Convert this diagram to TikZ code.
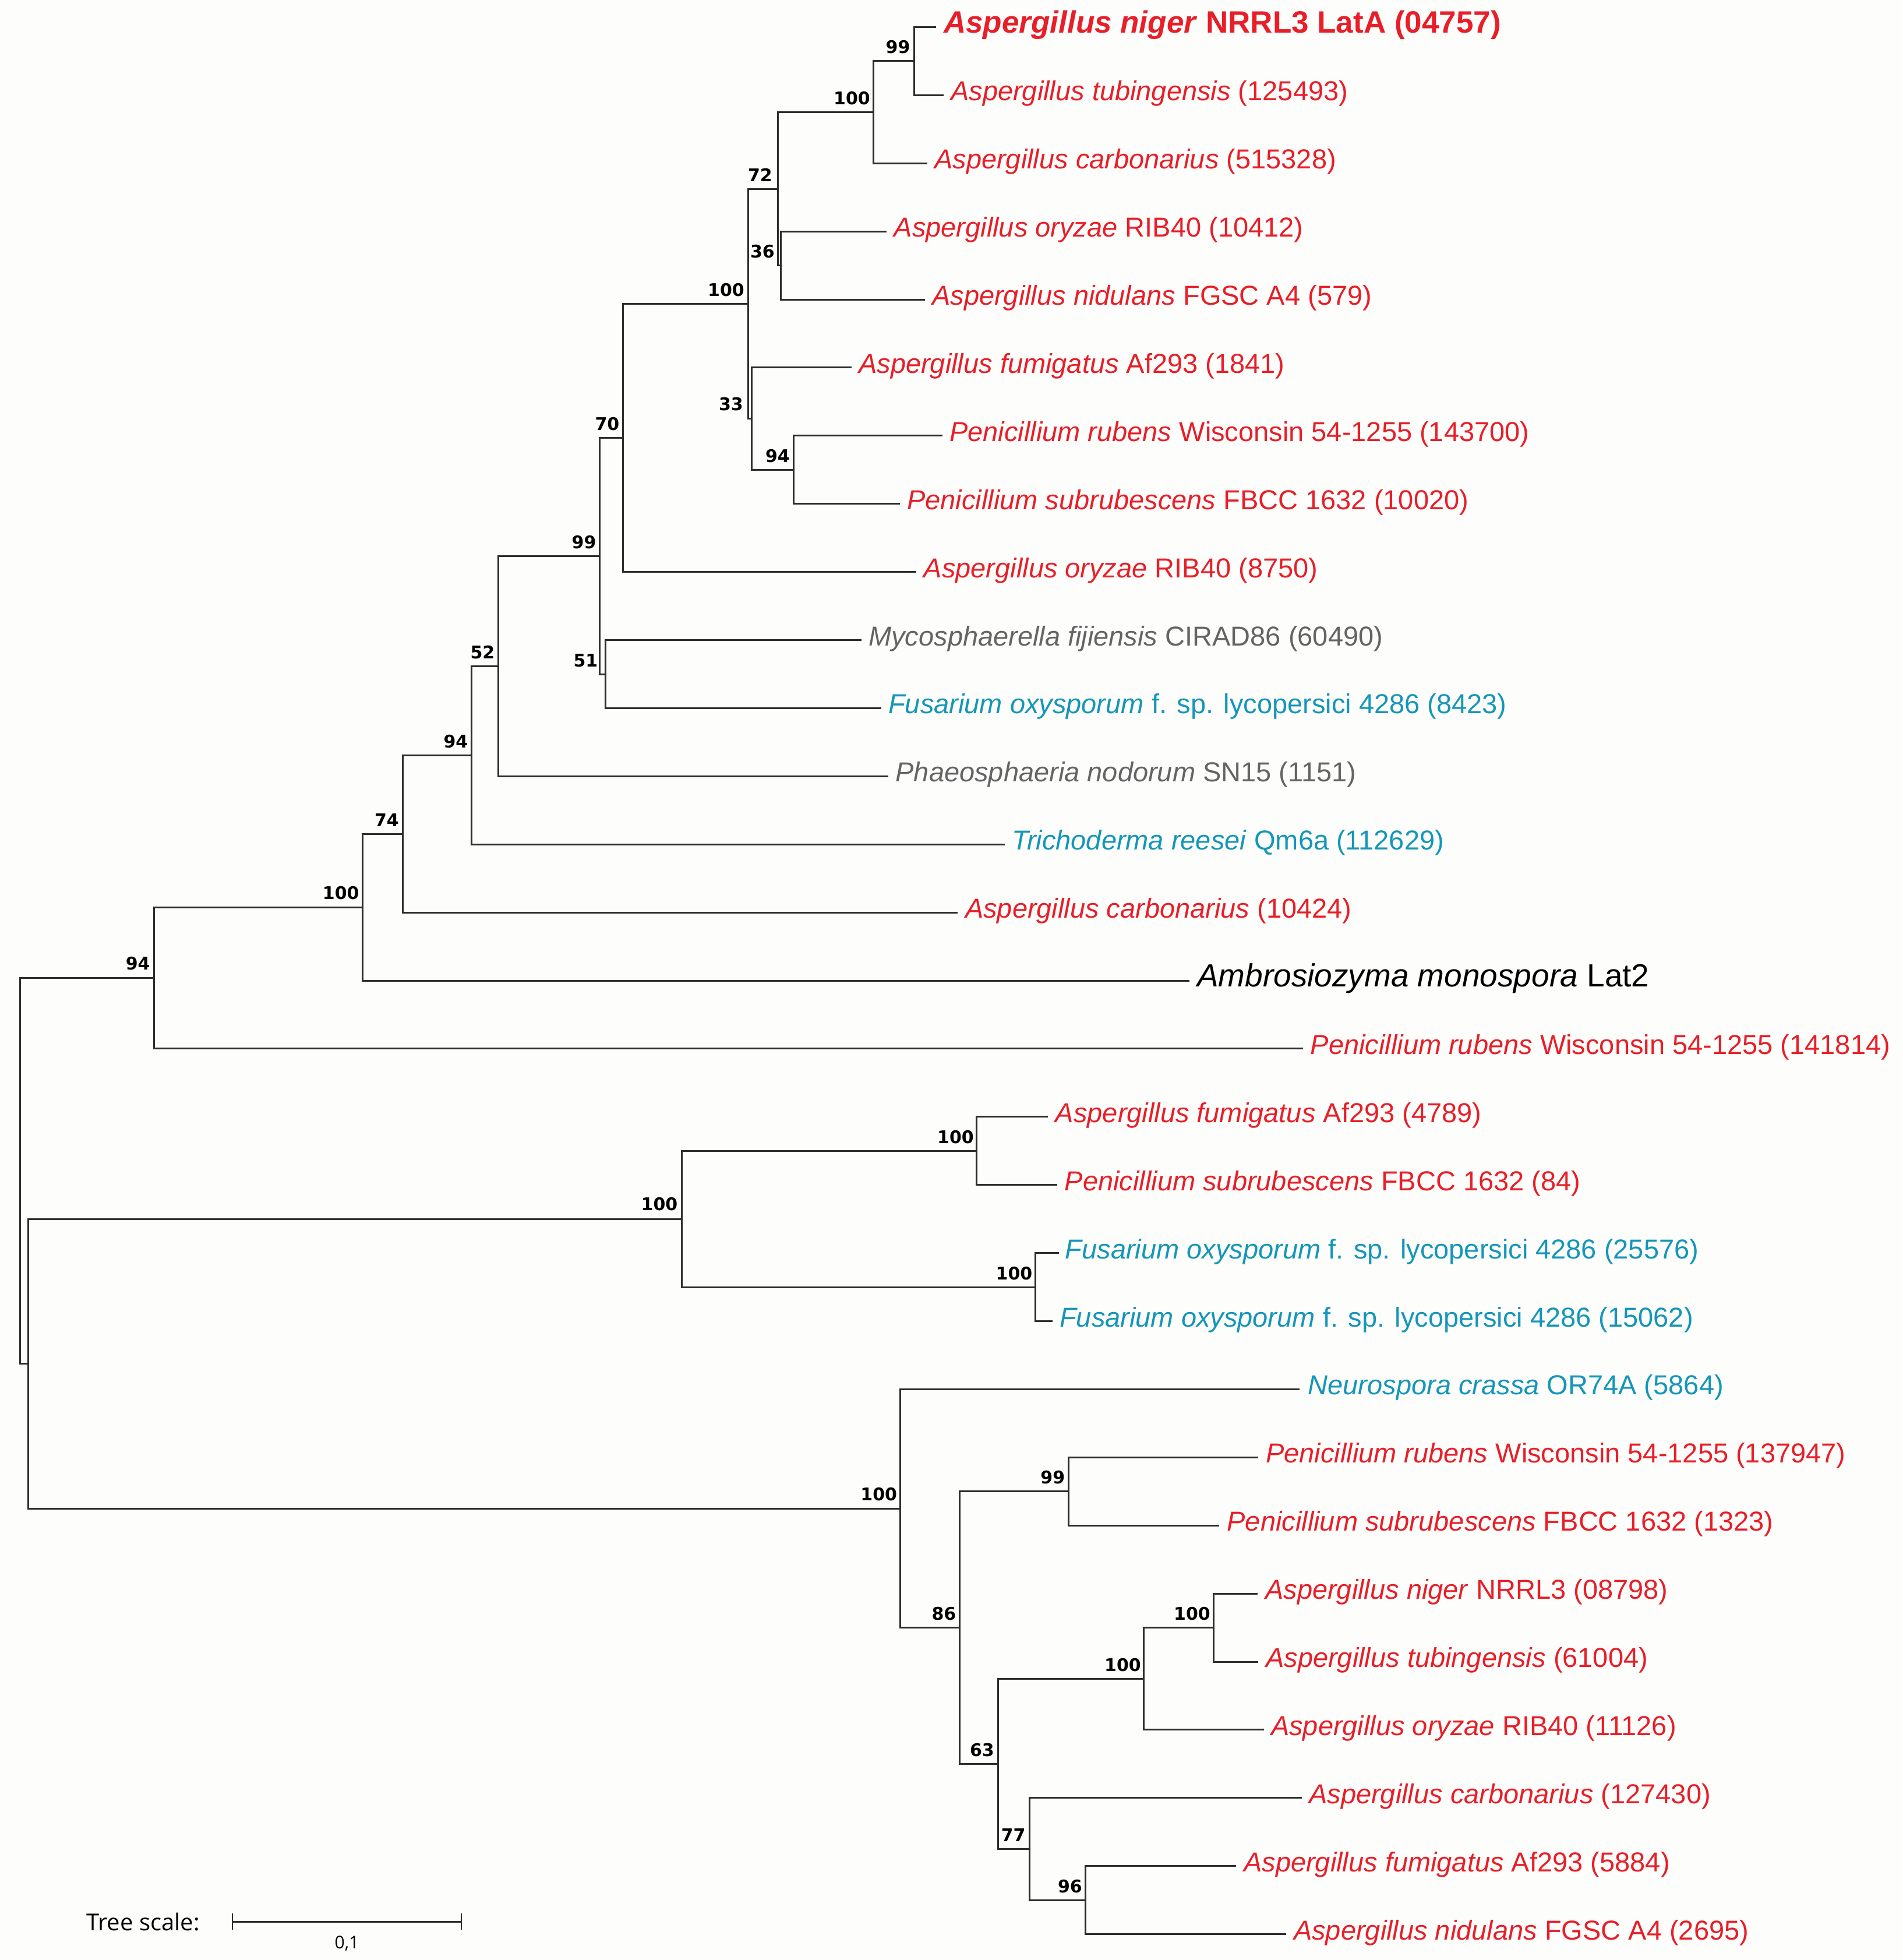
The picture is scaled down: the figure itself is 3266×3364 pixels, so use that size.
\documentclass[tikz,border=0pt]{standalone}
\usepackage{fontspec}
\usetikzlibrary{calc}
\setmainfont{Liberation Sans}
\newfontfamily\bsfam{DejaVu Sans}
\newfontfamily\scfam{Open Sans}
\definecolor{lred}{RGB}{232,30,40}
\definecolor{lteal}{RGB}{20,150,185}
\definecolor{lgray}{RGB}{100,100,102}
\definecolor{treec}{RGB}{45,45,45}
\definecolor{bgc}{RGB}{253,253,251}
\newcommand\myLab{\fontsize{47}{56}\selectfont}
\newcommand\myBig{\fontsize{53}{62}\selectfont\bfseries}
\newcommand\myAmb{\fontsize{55}{64}\selectfont}
\newcommand\myBs{\bsfam\bfseries\fontsize{30}{36}\selectfont}
\tikzset{
  br/.style={draw=treec, line width=3pt, line cap=rect},
  lab/.style={anchor=base west, inner sep=0pt, font=\myLab},
  bs/.style={anchor=base east, inner sep=0pt, font=\myBs},
}
\begin{document}
\begin{tikzpicture}[x=1pt,y=-1pt]
\fill[bgc] (0,0) rectangle (3266,3364);
\useasboundingbox (0,0) rectangle (3266,3364);

% internal nodes
\coordinate (root) at (34.8,2009.5);
\coordinate (nA) at (264.7,1678.5);
\coordinate (nB) at (48.7,2340.6);
\coordinate (n100c) at (622.8,1557.1);
\coordinate (n74) at (691,1431.2);
\coordinate (n94b) at (809.5,1296.2);
\coordinate (n52) at (855.5,1143.2);
\coordinate (n99b) at (1029.6,954.2);
\coordinate (n51) at (1039.5,1157);
\coordinate (n70) at (1069.5,751.4);
\coordinate (n100b) at (1284,521.3);
\coordinate (n33) at (1290,718.6);
\coordinate (n94a) at (1362,806.2);
\coordinate (n72) at (1335,324);
\coordinate (n36) at (1340,455.5);
\coordinate (n100a) at (1499,192.5);
\coordinate (n99a) at (1569.6,104.9);
\coordinate (n100d) at (1170.5,2092.15);
\coordinate (n100e) at (1676,1975.25);
\coordinate (n100f) at (1777.5,2209.05);
\coordinate (n100g) at (1545.2,2589);
\coordinate (n86) at (1647.5,2793.5);
\coordinate (n99c) at (1834.4,2559.75);
\coordinate (n63) at (1713,3027.3);
\coordinate (n100h) at (1963,2881.2);
\coordinate (n100i) at (2083,2793.55);
\coordinate (n77) at (1767.7,3173.5);
\coordinate (n96) at (1863,3261.15);

% leaf tips
\coordinate (t1) at (1605,46.4);
\coordinate (t2) at (1618,163.3);
\coordinate (t3) at (1590,280.2);
\coordinate (t4) at (1520.5,397.1);
\coordinate (t5) at (1586,514.0);
\coordinate (t6) at (1460,630.9);
\coordinate (t7) at (1616,747.8);
\coordinate (t8) at (1543,864.7);
\coordinate (t9) at (1571.6,981.6);
\coordinate (t10) at (1477,1098.5);
\coordinate (t11) at (1511,1215.4);
\coordinate (t12) at (1523.4,1332.3);
\coordinate (t13) at (1723.6,1449.2);
\coordinate (t14) at (1642.8,1566.1);
\coordinate (t15) at (2040.8,1683.0);
\coordinate (t16) at (2235.5,1799.9);
\coordinate (t17) at (1797.7,1916.8);
\coordinate (t18) at (1813.6,2033.7);
\coordinate (t19) at (1816.5,2150.6);
\coordinate (t20) at (1805,2267.5);
\coordinate (t21) at (2229.5,2384.4);
\coordinate (t22) at (2158,2501.3);
\coordinate (t23) at (2091.4,2618.2);
\coordinate (t24) at (2157,2735.1);
\coordinate (t25) at (2158,2852.0);
\coordinate (t26) at (2168.8,2968.9);
\coordinate (t27) at (2233,3085.8);
\coordinate (t28) at (2120,3202.7);
\coordinate (t29) at (2206.9,3319.6);

% branches
\draw[br] (root) |- (nA);  \draw[br] (root) |- (nB);
\draw[br] (nA) |- (n100c); \draw[br] (nA) |- (t16);
\draw[br] (n100c) |- (n74); \draw[br] (n100c) |- (t15);
\draw[br] (n74) |- (n94b); \draw[br] (n74) |- (t14);
\draw[br] (n94b) |- (n52); \draw[br] (n94b) |- (t13);
\draw[br] (n52) |- (n99b); \draw[br] (n52) |- (t12);
\draw[br] (n99b) |- (n70); \draw[br] (n99b) |- (n51);
\draw[br] (n70) |- (n100b); \draw[br] (n70) |- (t9);
\draw[br] (n100b) |- (n72); \draw[br] (n100b) |- (n33);
\draw[br] (n72) |- (n100a); \draw[br] (n72) |- (n36);
\draw[br] (n100a) |- (n99a); \draw[br] (n100a) |- (t3);
\draw[br] (n99a) |- (t1); \draw[br] (n99a) |- (t2);
\draw[br] (n36) |- (t4); \draw[br] (n36) |- (t5);
\draw[br] (n33) |- (t6); \draw[br] (n33) |- (n94a);
\draw[br] (n94a) |- (t7); \draw[br] (n94a) |- (t8);
\draw[br] (n51) |- (t10); \draw[br] (n51) |- (t11);
\draw[br] (nB) |- (n100d); \draw[br] (nB) |- (n100g);
\draw[br] (n100d) |- (n100e); \draw[br] (n100d) |- (n100f);
\draw[br] (n100e) |- (t17); \draw[br] (n100e) |- (t18);
\draw[br] (n100f) |- (t19); \draw[br] (n100f) |- (t20);
\draw[br] (n100g) |- (t21); \draw[br] (n100g) |- (n86);
\draw[br] (n86) |- (n99c); \draw[br] (n86) |- (n63);
\draw[br] (n99c) |- (t22); \draw[br] (n99c) |- (t23);
\draw[br] (n63) |- (n100h); \draw[br] (n63) |- (n77);
\draw[br] (n100h) |- (n100i); \draw[br] (n100h) |- (t26);
\draw[br] (n100i) |- (t24); \draw[br] (n100i) |- (t25);
\draw[br] (n77) |- (t27); \draw[br] (n77) |- (n96);
\draw[br] (n96) |- (t28); \draw[br] (n96) |- (t29);

% bootstrap values
\node[bs] (b99a) at ([xshift=-7pt,yshift=13pt]n99a) {99};
\node[bs] (b100a) at ([xshift=-5pt,yshift=13pt]n100a) {100};
\node[bs] (b72) at ([xshift=-9pt,yshift=13pt]n72) {72};
\node[bs] (b36) at ([xshift=-10pt,yshift=13pt]n36) {36};
\node[bs] (b100b) at ([xshift=-6pt,yshift=13pt]n100b) {100};
\node[bs] (b33) at ([xshift=-14pt,yshift=14pt]n33) {33};
\node[bs] (b94a) at ([xshift=-6pt,yshift=13pt]n94a) {94};
\node[bs] (b70) at ([xshift=-6pt,yshift=13pt]n70) {70};
\node[bs] (b99b) at ([xshift=-6pt,yshift=13pt]n99b) {99};
\node[bs] (b51) at ([xshift=-13pt,yshift=13pt]n51) {51};
\node[bs] (b52) at ([xshift=-6pt,yshift=13pt]n52) {52};
\node[bs] (b94b) at ([xshift=-6pt,yshift=13pt]n94b) {94};
\node[bs] (b74) at ([xshift=-6pt,yshift=13pt]n74) {74};
\node[bs] (b100c) at ([xshift=-6pt,yshift=14pt]n100c) {100};
\node[bs] (b94c) at ([xshift=-7pt,yshift=14pt]nA) {94};
\node[bs] (b100d) at ([xshift=-7pt,yshift=15pt]n100d) {100};
\node[bs] (b100e) at ([xshift=-4pt,yshift=13pt]n100e) {100};
\node[bs] (b100f) at ([xshift=-5pt,yshift=13pt]n100f) {100};
\node[bs] (b100g) at ([xshift=-5pt,yshift=14pt]n100g) {100};
\node[bs] (b86) at ([xshift=-6pt,yshift=13pt]n86) {86};
\node[bs] (b99c) at ([xshift=-6pt,yshift=13pt]n99c) {99};
\node[bs] (b63) at ([xshift=-6pt,yshift=13pt]n63) {63};
\node[bs] (b100h) at ([xshift=-4pt,yshift=13pt]n100h) {100};
\node[bs] (b100i) at ([xshift=-5pt,yshift=13pt]n100i) {100};
\node[bs] (b77) at ([xshift=-7pt,yshift=13pt]n77) {77};
\node[bs] (b96) at ([xshift=-5pt,yshift=13pt]n96) {96};

% leaf labels
\node[lab, font=\myBig, text=lred] (l1) at ([xshift=15pt,yshift=-10pt]t1) {\textit{Aspergillus niger} NRRL3 LatA (04757)};
\node[lab, text=lred] (l2) at ([xshift=14pt,yshift=-9.5pt]t2) {\textit{Aspergillus tubingensis} (125493)};
\node[lab, text=lred] (l3) at ([xshift=14pt,yshift=-9.5pt]t3) {\textit{Aspergillus carbonarius} (515328)};
\node[lab, text=lred] (l4) at ([xshift=14pt,yshift=-9.5pt]t4) {\textit{Aspergillus oryzae} RIB40 (10412)};
\node[lab, text=lred] (l5) at ([xshift=14pt,yshift=-9.5pt]t5) {\textit{Aspergillus nidulans} FGSC A4 (579)};
\node[lab, text=lred] (l6) at ([xshift=14pt,yshift=-9.5pt]t6) {\textit{Aspergillus fumigatus} Af293 (1841)};
\node[lab, text=lred] (l7) at ([xshift=14pt,yshift=-9.5pt]t7) {\textit{Penicillium rubens} Wisconsin 54-1255 (143700)};
\node[lab, text=lred] (l8) at ([xshift=14pt,yshift=-9.5pt]t8) {\textit{Penicillium subrubescens} FBCC 1632 (10020)};
\node[lab, text=lred] (l9) at ([xshift=14pt,yshift=-9.5pt]t9) {\textit{Aspergillus oryzae} RIB40 (8750)};
\node[lab, text=lgray] (l10) at ([xshift=14pt,yshift=-9.5pt]t10) {\textit{Mycosphaerella fijiensis} CIRAD86 (60490)};
\node[lab, text=lteal] (l11) at ([xshift=14pt,yshift=-9.5pt]t11) {\textit{Fusarium oxysporum} f. sp. lycopersici 4286 (8423)};
\node[lab, text=lgray] (l12) at ([xshift=14pt,yshift=-9.5pt]t12) {\textit{Phaeosphaeria nodorum} SN15 (1151)};
\node[lab, text=lteal] (l13) at ([xshift=14pt,yshift=-9.5pt]t13) {\textit{Trichoderma reesei} Qm6a (112629)};
\node[lab, text=lred] (l14) at ([xshift=14pt,yshift=-9.5pt]t14) {\textit{Aspergillus carbonarius} (10424)};
\node[lab, font=\myAmb, text=black] (l15) at ([xshift=14pt,yshift=-10.5pt]t15) {\textit{Ambrosiozyma monospora} Lat2};
\node[lab, text=lred] (l16) at ([xshift=14pt,yshift=-9.5pt]t16) {\textit{Penicillium rubens} Wisconsin 54-1255 (141814)};
\node[lab, text=lred] (l17) at ([xshift=14pt,yshift=-9.5pt]t17) {\textit{Aspergillus fumigatus} Af293 (4789)};
\node[lab, text=lred] (l18) at ([xshift=14pt,yshift=-9.5pt]t18) {\textit{Penicillium subrubescens} FBCC 1632 (84)};
\node[lab, text=lteal] (l19) at ([xshift=12pt,yshift=-9.5pt]t19) {\textit{Fusarium oxysporum} f. sp. lycopersici 4286 (25576)};
\node[lab, text=lteal] (l20) at ([xshift=14pt,yshift=-9.5pt]t20) {\textit{Fusarium oxysporum} f. sp. lycopersici 4286 (15062)};
\node[lab, text=lteal] (l21) at ([xshift=16pt,yshift=-9.5pt]t21) {\textit{Neurospora crassa} OR74A (5864)};
\node[lab, text=lred] (l22) at ([xshift=15pt,yshift=-9.5pt]t22) {\textit{Penicillium rubens} Wisconsin 54-1255 (137947)};
\node[lab, text=lred] (l23) at ([xshift=15pt,yshift=-9.5pt]t23) {\textit{Penicillium subrubescens} FBCC 1632 (1323)};
\node[lab, text=lred] (l24) at ([xshift=15pt,yshift=-9.5pt]t24) {\textit{Aspergillus niger} NRRL3 (08798)};
\node[lab, text=lred] (l25) at ([xshift=15pt,yshift=-9.5pt]t25) {\textit{Aspergillus tubingensis} (61004)};
\node[lab, text=lred] (l26) at ([xshift=13pt,yshift=-9.5pt]t26) {\textit{Aspergillus oryzae} RIB40 (11126)};
\node[lab, text=lred] (l27) at ([xshift=14pt,yshift=-9.5pt]t27) {\textit{Aspergillus carbonarius} (127430)};
\node[lab, text=lred] (l28) at ([xshift=15pt,yshift=-9.5pt]t28) {\textit{Aspergillus fumigatus} Af293 (5884)};
\node[lab, text=lred] (l29) at ([xshift=14pt,yshift=-9.5pt]t29) {\textit{Aspergillus nidulans} FGSC A4 (2695)};

% scale bar
\coordinate (sbL) at (399,3298);
\coordinate (sbR) at (792,3298);
\coordinate (sbM) at (595.5,3344);
\draw[draw=treec, line width=3pt] (sbL) -- (sbR);
\draw[draw=treec, line width=2.5pt] ([yshift=14pt]sbL) -- ([yshift=-14pt]sbL);
\draw[draw=treec, line width=2.5pt] ([yshift=14pt]sbR) -- ([yshift=-14pt]sbR);
\node[anchor=base west, inner sep=0pt, font=\scfam\fontsize{40}{48}\selectfont] (tscale) at (148,3313) {Tree scale:};
\node[anchor=base, inner sep=0pt, font=\scfam\fontsize{30}{36}\selectfont] (tval) at (sbM) {0,1};
\end{tikzpicture}
\end{document}
